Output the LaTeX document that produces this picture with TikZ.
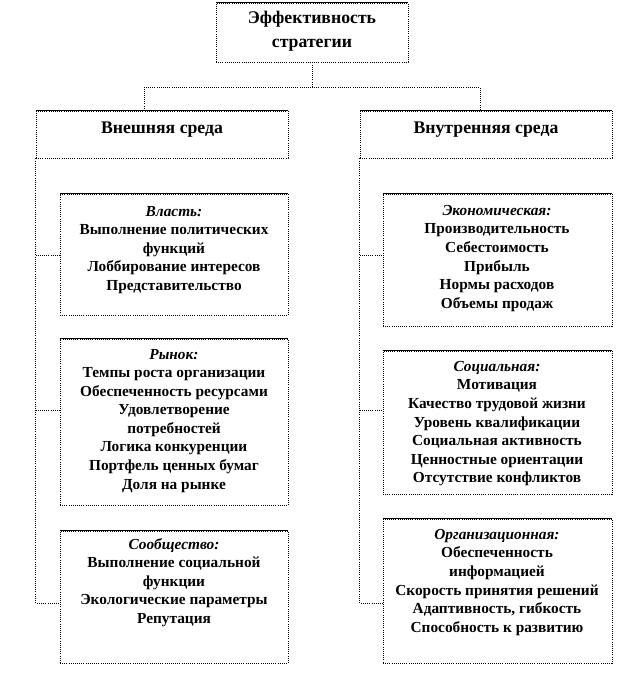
\documentclass[tikz,border=0pt]{standalone}
\usepackage{fontspec}
\setmainfont{Liberation Serif}
\usetikzlibrary{fit}
\begin{document}
\begin{tikzpicture}[x=0.75pt,y=-0.75pt,
  box/.style={draw=black, densely dotted, line width=0.6pt, inner sep=0pt},
  topedge/.style={draw=black, line width=0.6pt},
  conn/.style={draw=black, densely dotted, line width=0.6pt},
  head/.style={font=\fontsize{13.3}{18}\selectfont\bfseries, align=center, inner sep=0pt},
  item/.style={font=\fontsize{11.5}{13.9}\selectfont\bfseries, align=center, inner sep=0pt, anchor=north}]
\useasboundingbox (0,0) rectangle (624,687);
% boxes
\node[box, fit={(216,3) (408,62)}] (top) {};
\node[box, fit={(36,111) (288,158)}] (vnesh) {};
\node[box, fit={(360,111) (612,158)}] (vnutr) {};
\node[box, fit={(60,194) (288,315)}] (vlast) {};
\node[box, fit={(60,339) (288,505)}] (rynok) {};
\node[box, fit={(60,531) (288,663)}] (soob) {};
\node[box, fit={(383,194) (612,326)}] (econ) {};
\node[box, fit={(383,351) (612,494)}] (soc) {};
\node[box, fit={(383,519) (612,663)}] (org) {};
\foreach \b in {top,vnesh,vnutr,vlast,rynok,soob,econ,soc,org}
  \draw[topedge] (\b.north west) -- (\b.north east);
% texts
\node[head] (topT) at (312,31) {Эффективность\\стратегии};
\node[head, anchor=base] (vneshT) at (162,133) {Внешняя среда};
\node[head, anchor=base] (vnutrT) at (486,133) {Внутренняя среда};
\node[item] (vlastT) at (174,206) {\textit{Власть:}\\Выполнение политических\\функций\\Лоббирование интересов\\Представительство};
\node[item] (rynokT) at (174,349) {\textit{Рынок:}\\Темпы роста организации\\Обеспеченность ресурсами\\Удовлетворение\\потребностей\\Логика конкуренции\\Портфель ценных бумаг\\Доля на рынке};
\node[item] (soobT) at (174,538) {\textit{Сообщество:}\\Выполнение социальной\\функции\\Экологические параметры\\Репутация};
\node[item] (econT) at (497,205) {\textit{Экономическая:}\\Производительность\\Себестоимость\\Прибыль\\Нормы расходов\\Объемы продаж};
\node[item] (socT) at (497,361) {\textit{Социальная:}\\Мотивация\\Качество трудовой жизни\\Уровень квалификации\\Социальная активность\\Ценностные ориентации\\Отсутствие конфликтов};
\node[item] (orgT) at (497,529) {\textit{Организационная:}\\Обеспеченность\\информацией\\Скорость принятия решений\\Адаптивность, гибкость\\Способность к развитию};
% connector points
\coordinate (mid) at (312,87);
\coordinate (jL) at (144,111);
\coordinate (jR) at (480,111);
\coordinate (vlastIn) at (60,255);
\coordinate (rynokIn) at (60,410);
\coordinate (soobIn) at (60,603);
\coordinate (econIn) at (383,255);
\coordinate (socIn) at (383,410);
\coordinate (orgIn) at (383,603);
% connectors
\draw[conn] (top.south) -- (mid) -| (jL);
\draw[conn] (mid) -| (jR);
\draw[conn] (vnesh.south west) |- (soobIn);
\draw[conn] (vnesh.south west |- vlastIn) -- (vlastIn);
\draw[conn] (vnesh.south west |- rynokIn) -- (rynokIn);
\draw[conn] (vnutr.south west) |- (orgIn);
\draw[conn] (vnutr.south west |- econIn) -- (econIn);
\draw[conn] (vnutr.south west |- socIn) -- (socIn);
\end{tikzpicture}
\end{document}
